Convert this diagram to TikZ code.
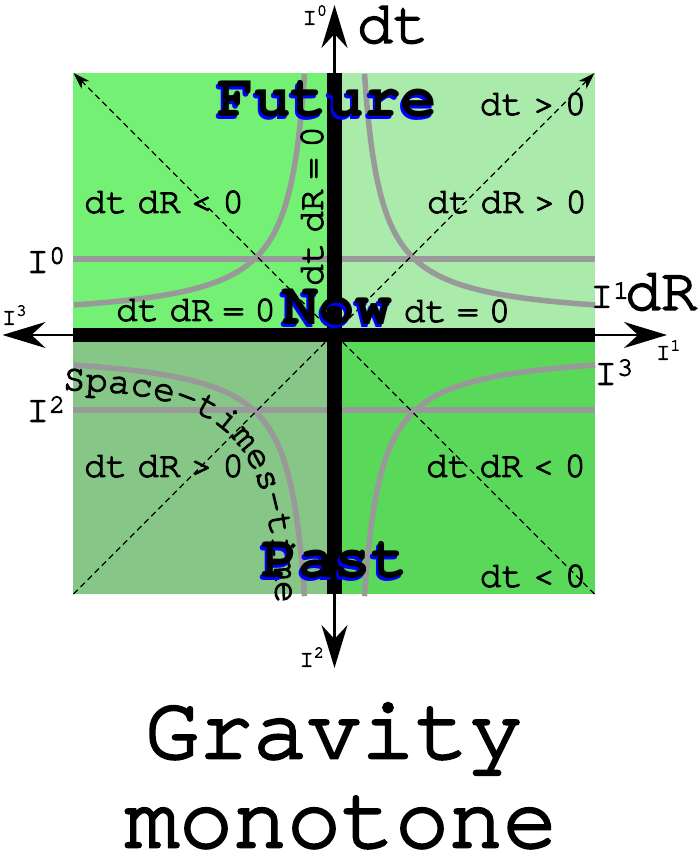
\documentclass[tikz,border=0pt]{standalone}
\usepackage{fontspec}
\setmainfont{TeX Gyre Cursor}[UprightFeatures={FakeBold=3}]
\usepackage{tikz}
\usetikzlibrary{arrows.meta,decorations.text}
\definecolor{FutureGreen}{HTML}{74F074}
\definecolor{PaleGreen}{HTML}{AAEAAA}
\definecolor{PastGreen}{HTML}{86C686}
\definecolor{DeepGreen}{HTML}{5AD85A}
\definecolor{CurveGray}{HTML}{999999}
\newcommand{\sk}{\hspace{0.28em}}

\begin{document}
\begin{tikzpicture}[x=1pt, y=1pt,
  curve/.style={draw=CurveGray, line width=5.5pt},
  bar/.style={line width=14pt},
  axis/.style={line width=2pt, -{Stealth[length=43pt, width=26pt, inset=14pt]}},
  diag/.style={line width=1.2pt, dash pattern=on 6pt off 4pt, -{Stealth[length=17pt, width=11pt, inset=5pt]}},
  lbl/.style={font=\fontsize{36}{40}\selectfont, inner sep=0pt},
  idx/.style={font=\fontsize{24}{28}\selectfont, inner sep=0pt},
  bigidx/.style={font=\fontsize{38}{42}\selectfont, inner sep=0pt},
  var/.style={font=\fontsize{60}{64}\selectfont, inner sep=0pt},
  era/.style={font=\bfseries\fontsize{61}{64}\selectfont, inner sep=0pt, anchor=base},
  title/.style={font=\fontsize{90}{96}\selectfont, inner sep=0pt, anchor=base}]
\useasboundingbox (-334.5,-524) rectangle (364.5,335);
% quadrants
\fill[FutureGreen] (-261,0) rectangle (0,262);
\fill[PaleGreen]   (0,0) rectangle (260,262);
\fill[PastGreen]   (-261,-259) rectangle (0,0);
\fill[DeepGreen]   (0,-259) rectangle (260,0);
% level lines and hyperbolas
\draw[curve] (-261,76) -- (260,76);
\draw[curve] (-261,-75) -- (260,-75);
\draw[curve] plot[domain=0:2.68, samples=60, smooth] ({-(13+17*exp(\x))},{13+248.2*exp(-\x)});
\draw[curve] plot[domain=0:2.68, samples=60, smooth] ({13+17*exp(\x)},{13+248.2*exp(-\x)});
\draw[curve] plot[domain=0:2.68, samples=60, smooth] ({-(13+17*exp(\x))},{-(13+248.2*exp(-\x))});
\draw[curve] plot[domain=0:2.68, samples=60, smooth] ({13+17*exp(\x)},{-(13+248.2*exp(-\x))});
% light cone
\coordinate (sw) at (-261,-259);
\coordinate (ne) at (260,262);
\coordinate (se) at (260,-259);
\coordinate (nw) at (-261,262);
\draw[diag] (sw) -- (ne);
\draw[diag] (se) -- (nw);
% axes
\coordinate (o) at (0,0);
\coordinate (n) at (0,330);
\coordinate (s) at (0,-333);
\coordinate (w) at (-332,0);
\coordinate (e) at (332.5,0);
\draw[bar] (-261,0) -- (260,0);
\draw[bar] (0,-259) -- (0,262);
\draw[axis] (o) -- (n);
\draw[axis] (o) -- (s);
\draw[axis] (o) -- (w);
\draw[axis] (o) -- (e);
% infinities
\node[idx] (i0t) at (-19.5,320) {I\textsuperscript{0}};
\node[idx] (i3l) at (-320,20) {I\textsuperscript{3}};
\node[idx] (i1r) at (334,-15) {I\textsuperscript{1}};
\node[idx] (i2b) at (-22.5,-322) {I\textsuperscript{2}};
\node[bigidx] (i0) at (-288.5,75) {I\textsuperscript{0}};
\node[bigidx] (i2) at (-288.5,-74) {I\textsuperscript{2}};
\node[bigidx] (i1) at (275.5,40) {I\textsuperscript{1}};
\node[bigidx] (i3) at (279.5,-37) {I\textsuperscript{3}};
\node[var] (dt) at (58.5,310) {dt};
\node[var] (dR) at (326.5,43) {dR};
% regions
\node[lbl] (tl) at (-170.5,133) {dt\sk dR\sk<\sk 0};
\node[lbl] (tr) at (172.5,133) {dt\sk dR\sk>\sk 0};
\node[lbl] (fut0) at (198.5,231) {dt\sk>\sk 0};
\node[lbl] (hz) at (-138.5,25) {dt\sk dR\sk=\sk 0};
\node[lbl] (now0) at (122.5,24) {dt\sk=\sk 0};
\node[lbl] (bl) at (-170.5,-131) {dt\sk dR\sk>\sk 0};
\node[lbl] (br) at (171.5,-131) {dt\sk dR\sk<\sk 0};
\node[lbl] (past0) at (198.5,-241) {dt\sk<\sk 0};
\node[lbl, rotate=90] (vt) at (-22.5,129) {dt\sk dR\sk=\sk 0};
% curved label, sampled cubic
\path[decorate, decoration={text along path,
  text={|\fontsize{37}{40}\selectfont|Space-times-time}}]
  plot[domain=0:1, samples=100, variable=\t]
  ({(1-\t)^3*(-271.5)+3*(1-\t)^2*\t*(-104.5)+3*(1-\t)*\t^2*(-60.5)+\t^3*(-58.5)},
   {(1-\t)^3*(-55)+3*(1-\t)^2*\t*(-57)+3*(1-\t)*\t^2*(-105)+\t^3*(-277)});
% eras
\node[era, text=blue] (futb) at (-9,215) {Future};
\node[era] (fut) at (-7,218) {Future};
\node[era, text=blue] (nowb) at (0.5,7) {Now};
\node[era] (now) at (2.5,10) {Now};
\node[era, text=blue] (pastb) at (-1.5,-245) {Past};
\node[era] (past) at (0.5,-242) {Past};
% title
\node[title] (grav) at (-0.5,-423) {Gravity};
\node[title] (mono) at (6.5,-512) {monotone};
\end{tikzpicture}
\end{document}
